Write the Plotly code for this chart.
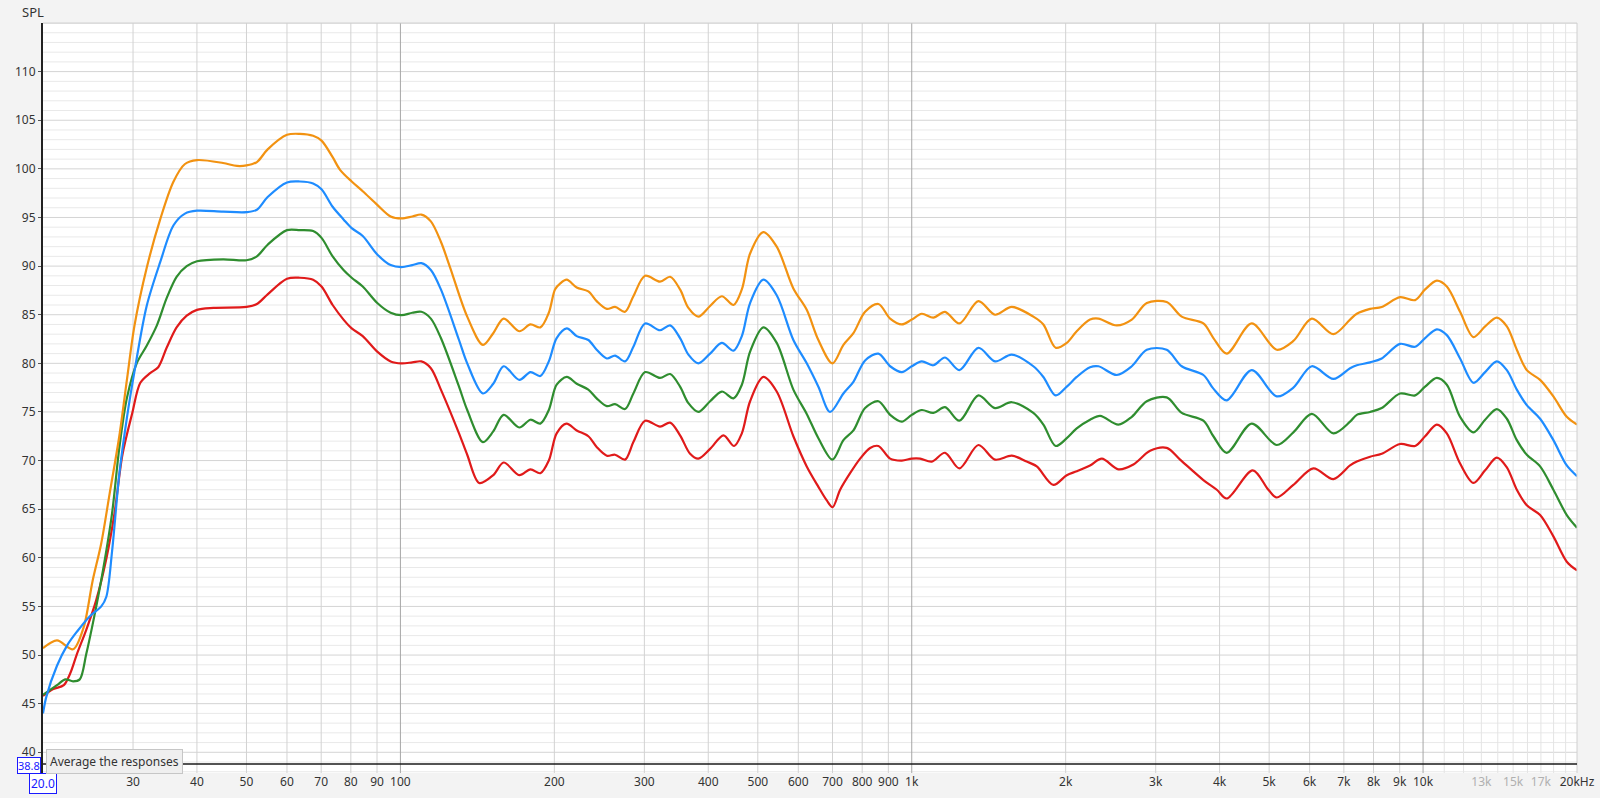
import math
import plotly.graph_objects as go

# ---------------- data (frequency in Hz, SPL in dB) ----------------
orange_f = [20.0, 21.3, 22.9, 24.0, 25.0, 26.0, 27.0, 28.2, 29.2, 30.2, 31.9, 33.9, 36.0, 37.9, 40.0,
            45.0, 47.9, 50.0, 52.4, 55.0, 60.0, 63.6, 67.5, 70.1, 73.7, 76.2, 80.3, 84.4, 90.1, 95.7,
            100.5, 105.5, 109.9, 114.7, 120, 125, 135.1, 145, 151.9, 159.2, 170.8, 179.6, 187.8, 195.1,
            200.6, 205.2, 211.5, 221.2, 233.1, 242, 253.3, 262.9, 275, 285.5, 301, 321.9, 336.9, 352.3,
            365.8, 382.5, 403.3, 425.2, 448.1, 465.3, 482.9, 512.6, 544.4, 586.8, 623.2, 656.8, 699.7,
            735.2, 769, 810.6, 860.6, 907.2, 956.2, 1000, 1046.2, 1102.3, 1161.8, 1239.2, 1350, 1455,
            1569, 1729, 1809, 1912, 2010, 2102, 2232, 2318, 2518, 2694, 2882, 3152, 3373, 3718, 3890,
            4130, 4622, 5174, 5576, 6058, 6678, 7198, 7420, 7878, 8302, 9016, 9648, 10092, 10638, 11128,
            11814, 12546, 13224, 13938, 14582, 15252, 15954, 16938, 17982, 19100, 20000]
orange_db = [50.7, 51.5, 50.6, 52.8, 57.6, 61.5, 66.6, 72.5, 78.4, 83.9, 89.8, 94.8, 98.7, 100.5, 100.9,
             100.6, 100.3, 100.35, 100.7, 102.0, 103.5, 103.6, 103.4, 102.9, 101.2, 99.9, 98.7, 97.7, 96.3, 95.1,
             94.9, 95.1, 95.3, 94.6, 92.5, 89.9, 84.8, 81.9, 83.1, 84.6, 83.3, 84.0, 83.7, 85.2,
             87.6, 88.2, 88.6, 87.8, 87.4, 86.4, 85.6, 85.8, 85.3, 86.9, 89.0, 88.4, 88.9, 87.6,
             85.7, 84.8, 85.9, 86.9, 86.0, 87.6, 91.3, 93.5, 92.0, 87.7, 85.5, 82.4, 80.0,
             81.9, 83.1, 85.3, 86.1, 84.6, 84.0, 84.5, 85.1, 84.7, 85.3, 84.1, 86.4, 85.0,
             85.8, 84.8, 84.0, 81.6, 82.1, 83.3, 84.5, 84.6, 83.9, 84.5, 86.2, 86.3, 84.8, 84.1, 82.6,
             81.0, 84.1, 81.4, 82.3, 84.6, 83.0, 84.5, 85.1, 85.6, 85.8, 86.8, 86.5, 87.6, 88.5, 87.9,
             85.3, 82.7, 83.8, 84.7, 83.8, 81.4, 79.3, 78.3, 76.6, 74.5, 73.7]

blue_f = [20.0, 20.3, 21.3, 22.3, 23.3, 24.7, 26.0, 26.6, 27.3, 28.2, 29.2, 30.2, 31.9, 33.9, 36.0, 37.9,
          40.0, 45.0, 50.0, 52.4, 55.0, 60.0, 63.6, 67.5, 70.1, 73.7, 77.4, 80.3, 84.4, 90.1, 95.7,
          100.5, 105.5, 109.9, 114.7, 120, 130.2, 135.1, 145, 151.9, 159.2, 170.8, 179.6, 187.8, 195.1,
          202.1, 211.5, 221.2, 233.1, 242, 253.3, 262.9, 275, 285.5, 301, 321.9, 336.9, 352.3, 365.8,
          382.5, 403.3, 425.2, 448.1, 465.3, 482.9, 512.6, 544.4, 586.8, 623.2, 656.8, 692.3, 735.2,
          769, 810.6, 860.6, 907.2, 956.2, 1000, 1046.2, 1102.3, 1161.8, 1239.2, 1350, 1455, 1569, 1729,
          1809, 1912, 2010, 2102, 2232, 2318, 2518, 2694, 2882, 3152, 3373, 3718, 3890, 4130, 4622, 5174,
          5576, 6058, 6678, 7198, 7420, 7878, 8302, 9016, 9648, 10092, 10638, 11128, 11814, 12546, 13224,
          13938, 14582, 15252, 15954, 16938, 17982, 19100, 20000]
blue_db = [44.0, 45.7, 48.9, 51.0, 52.4, 54.0, 55.0, 56.0, 60.7, 68.6, 74.5, 79.2, 85.9, 90.4, 94.2, 95.4,
           95.7, 95.6, 95.55, 95.8, 97.1, 98.6, 98.7, 98.5, 97.9, 96.1, 94.8, 93.9, 93.1, 91.2, 90.1,
           89.9, 90.1, 90.3, 89.6, 87.6, 82.4, 80.0, 76.9, 77.9, 79.7, 78.3, 79.1, 78.7, 80.2,
           82.6, 83.6, 82.8, 82.4, 81.4, 80.5, 80.8, 80.2, 81.7, 84.1, 83.4, 83.9, 82.6, 80.9,
           80.0, 81.0, 82.1, 81.3, 82.8, 86.2, 88.6, 87.0, 82.4, 80.0, 77.6, 75.0, 76.9,
           78.1, 80.3, 81.0, 79.7, 79.1, 79.7, 80.2, 79.8, 80.6, 79.3, 81.6, 80.2, 80.9, 79.7,
           78.6, 76.7, 77.6, 78.6, 79.6, 79.7, 78.8, 79.7, 81.4, 81.4, 79.7, 78.8, 77.4, 76.2, 79.3, 76.6,
           77.5, 79.7, 78.4, 79.5, 79.8, 80.1, 80.5, 82.0, 81.7, 82.6, 83.5, 82.9, 80.5, 78.0, 79.1,
           80.2, 79.3, 77.3, 75.7, 74.3, 72.1, 69.5, 68.4]

green_f = [20.0, 21.3, 22.1, 22.9, 23.6, 24.3, 25.2, 26.2, 27.3, 28.2, 29.2, 30.5, 31.9, 33.4, 34.9, 36.5,
           38.2, 40.0, 45.0, 50.0, 52.4, 55.0, 60.0, 63.6, 67.5, 70.1, 73.7, 77.4, 80.3, 84.4, 90.1, 95.7,
           100.5, 105.5, 109.9, 114.7, 120, 130.2, 135.1, 145, 151.9, 159.2, 170.8, 179.6, 187.8, 195.1,
           202.1, 211.5, 221.2, 233.1, 242, 253.3, 262.9, 275, 285.5, 301, 321.9, 336.9, 352.3, 365.8,
           382.5, 403.3, 425.2, 448.1, 465.3, 482.9, 512.6, 544.4, 586.8, 623.2, 656.8, 699.7, 735.2,
           769, 810.6, 860.6, 907.2, 956.2, 1000, 1046.2, 1102.3, 1161.8, 1239.2, 1350, 1455, 1569, 1729,
           1809, 1912, 2010, 2102, 2232, 2336, 2536, 2694, 2882, 3152, 3373, 3718, 3890, 4130, 4622, 5174,
           5576, 6058, 6678, 7198, 7420, 7878, 8302, 9016, 9648, 10092, 10638, 11128, 11814, 12546, 13224,
           13938, 14582, 15252, 15954, 16938, 17982, 19100, 20000]
green_db = [45.9, 46.9, 47.5, 47.3, 47.5, 50.1, 54.0, 58.7, 64.6, 71.3, 76.5, 80.0, 81.8, 83.9, 86.7, 88.9,
            90.0, 90.5, 90.7, 90.6, 91.0, 92.2, 93.7, 93.7, 93.6, 92.9, 91.0, 89.6, 88.8, 87.9, 86.2, 85.2,
            84.95, 85.2, 85.3, 84.6, 82.6, 77.6, 75.2, 71.9, 73.0, 74.7, 73.4, 74.2, 73.8, 75.2,
            77.8, 78.6, 77.9, 77.3, 76.4, 75.6, 75.8, 75.3, 76.9, 79.1, 78.5, 78.9, 77.6, 75.9,
            75.0, 76.1, 77.1, 76.4, 77.8, 81.2, 83.7, 82.1, 77.3, 74.8, 72.3, 70.1, 72.1,
            73.1, 75.4, 76.1, 74.7, 74.0, 74.7, 75.2, 74.9, 75.5, 74.1, 76.7, 75.4, 76.0, 74.9,
            73.7, 71.5, 72.3, 73.3, 74.2, 74.6, 73.7, 74.5, 76.1, 76.5, 74.9, 74.1, 72.5, 70.8, 73.8, 71.6,
            72.9, 74.8, 72.8, 74.0, 74.7, 75.0, 75.4, 76.9, 76.7, 77.6, 78.5, 77.8, 74.5, 72.9, 74.2,
            75.3, 74.3, 72.1, 70.6, 69.4, 67.0, 64.4, 63.1]

red_f = [20.0, 20.95, 21.96, 22.6, 23.3, 24.3, 25.4, 26.6, 27.6, 28.6, 29.9, 31.0, 32.4, 33.6, 34.9, 36.5,
         38.2, 40.0, 43.1, 50.0, 52.4, 55.0, 60.0, 63.6, 67.5, 70.1, 73.7, 77.4, 80.3, 84.4, 90.1, 95.7,
         100.5, 105.5, 109.9, 114.7, 120, 130.2, 135.1, 142.6, 151.9, 159.2, 170.8, 179.6, 187.8, 195.1,
         202.1, 211.2, 221.2, 233.1, 242, 253.3, 262.9, 275, 285.5, 301, 321.9, 336.9, 352.3, 368.6,
         382.5, 403.3, 428.4, 449.4, 465.3, 482.9, 512.6, 544.4, 586.8, 623.2, 656.8, 682.1, 700, 724.4,
         757.6, 792.6, 829.1, 860.6, 907.2, 956.2, 1000, 1038.5, 1094.4, 1161.8, 1239.2, 1350, 1455, 1569,
         1678, 1756, 1892, 2010, 2102, 2232, 2354, 2536, 2713, 2925, 3152, 3348, 3718, 3950, 4130, 4644,
         4982, 5174, 5576, 6102, 6678, 7198, 7420, 7878, 8302, 9016, 9648, 10092, 10638, 11128, 11814,
         12546, 13224, 13938, 14582, 15252, 15954, 16938, 17982, 19100, 20000]
red_db = [45.8, 46.5, 46.9, 48.1, 50.1, 52.6, 55.6, 59.9, 64.6, 70.6, 74.9, 78.0, 79.0, 79.6, 81.6, 83.7,
          84.9, 85.5, 85.7, 85.8, 86.1, 87.1, 88.7, 88.8, 88.6, 87.9, 86.0, 84.5, 83.6, 82.8, 81.2, 80.2,
          80.0, 80.1, 80.2, 79.5, 77.3, 72.8, 70.6, 67.7, 68.5, 69.8, 68.5, 69.1, 68.7, 70.0,
          72.8, 73.8, 73.1, 72.5, 71.4, 70.5, 70.6, 70.1, 71.9, 74.1, 73.5, 73.9, 72.6, 70.7,
          70.2, 71.2, 72.6, 71.5, 72.8, 76.1, 78.6, 77.1, 72.5, 69.4, 67.3, 65.9, 65.2, 67.0,
          68.7, 70.2, 71.3, 71.5, 70.2, 70.0, 70.2, 70.2, 69.9, 70.8, 69.2, 71.6, 70.1, 70.5,
          69.9, 69.4, 67.5, 68.5, 68.9, 69.5, 70.2, 69.1, 69.6, 71.0, 71.3, 70.1, 68.0, 67.0, 66.1, 69.0,
          67.0, 66.2, 67.5, 69.2, 68.1, 69.5, 69.9, 70.4, 70.7, 71.7, 71.5, 72.5, 73.7, 72.8, 69.7,
          67.7, 69.0, 70.3, 69.3, 67.0, 65.4, 64.4, 62.2, 59.6, 58.7]

# ---------------- axes / ticks ----------------
x_min, x_max = 20, 20000
y_min, y_max = 37.87, 115.0
cursor_level = 38.8

x_tick_vals = [30, 40, 50, 60, 70, 80, 90, 100, 200, 300, 400, 500, 600, 700, 800, 900, 1000,
               2000, 3000, 4000, 5000, 6000, 7000, 8000, 9000, 10000, 13000, 15000, 17000, 20000]
x_tick_text = ["30", "40", "50", "60", "70", "80", "90", "100", "200", "300", "400", "500", "600",
               "700", "800", "900", "1k", "2k", "3k", "4k", "5k", "6k", "7k", "8k", "9k", "10k",
               "13k", "15k", "17k", "20kHz"]
x_faded_labels = ["13k", "15k", "17k"]

y_tick_vals = [40, 45, 50, 55, 60, 65, 70, 75, 80, 85, 90, 95, 100, 105, 110]

grid_regular = [30, 40, 50, 60, 70, 80, 90, 200, 300, 400, 500, 600, 700, 800, 900,
                2000, 3000, 4000, 5000, 6000, 7000, 8000, 9000]
grid_decade = [100, 1000, 10000]
grid_high = [11000, 12000, 13000, 14000, 15000, 16000, 17000, 18000, 19000]

series = [
    ("red", red_f, red_db, "#e01a1a"),
    ("green", green_f, green_db, "#2f8d2f"),
    ("orange", orange_f, orange_db, "#f29211"),
    ("blue", blue_f, blue_db, "#1e8cff"),
]

FONT = "Noto Sans, Open Sans, DejaVu Sans, sans-serif"

fig = go.Figure()

shapes = []
# horizontal grid lines (1 dB minor, 5 dB major)
for v in range(38, 116):
    major = (v % 5 == 0)
    shapes.append(dict(type="line", xref="paper", yref="y", x0=0, x1=1, y0=v, y1=v,
                       line=dict(color="#d4d4d4" if major else "#e9e9e9", width=1), layer="below"))
# vertical grid lines
for v in grid_regular:
    shapes.append(dict(type="line", xref="x", yref="paper", x0=v, x1=v, y0=0, y1=1,
                       line=dict(color="#d2d2d2", width=1), layer="below"))
for v in grid_high:
    shapes.append(dict(type="line", xref="x", yref="paper", x0=v, x1=v, y0=0, y1=1,
                       line=dict(color="#e4e4e4", width=1), layer="below"))
for v in grid_decade:
    shapes.append(dict(type="line", xref="x", yref="paper", x0=v, x1=v, y0=0, y1=1,
                       line=dict(color="#a6a6a6", width=1), layer="below"))
# plot border (top / right)
shapes.append(dict(type="line", xref="paper", yref="paper", x0=0, x1=1, y0=1, y1=1,
                   line=dict(color="#d0d0d0", width=1)))
shapes.append(dict(type="line", xref="paper", yref="paper", x0=1, x1=1, y0=0, y1=1,
                   line=dict(color="#d0d0d0", width=1)))
# cursor line
shapes.append(dict(type="line", xref="paper", yref="y", x0=0, x1=1, y0=cursor_level, y1=cursor_level,
                   line=dict(color="#1a1a1a", width=1.5)))

for name, f, db, color in series:
    fig.add_trace(go.Scatter(x=f, y=db, mode="lines", name=name,
                             line=dict(color=color, width=2.2, shape="spline", smoothing=0.9),
                             hoverinfo="skip", showlegend=False))

tick_text_fmt = [f"<span style='color:#b0b0b0'>{t}</span>" if t in x_faded_labels else t
                 for t in x_tick_text]

fig.update_layout(
    width=1600, height=798,
    margin=dict(l=43, r=23, t=23, b=25),
    paper_bgcolor="#f3f3f3",
    plot_bgcolor="#ffffff",
    font=dict(family=FONT, size=12, color="#333333"),
    shapes=shapes,
    xaxis=dict(type="log", range=[math.log10(x_min), math.log10(x_max)], automargin=False,
               tickvals=x_tick_vals, ticktext=tick_text_fmt, ticks="", showgrid=False,
               zeroline=False, showline=False, tickfont=dict(size=12, color="#333333")),
    yaxis=dict(range=[y_min, y_max], tickvals=y_tick_vals, ticks="outside", ticklen=3, automargin=False,
               tickcolor="#555555", showgrid=False, zeroline=False, showline=True,
               linecolor="#222222", linewidth=2, tickfont=dict(size=12, color="#333333")),
    annotations=[
        dict(text="SPL", xref="paper", yref="paper", x=-0.0065, y=1.014, xanchor="center",
             yanchor="middle", showarrow=False, font=dict(size=13, color="#333333")),
        dict(text="20.0", xref="x", yref="paper", x=math.log10(x_min), y=-0.0135, xanchor="center",
             yanchor="middle", showarrow=False, font=dict(size=12, color="#1a1aff"),
             bordercolor="#1a1aff", borderwidth=1, borderpad=1, bgcolor="#ffffff"),
        dict(text=f"{cursor_level}", xref="paper", yref="y", x=-0.0093, y=cursor_level - 0.15,
             xanchor="center", yanchor="middle", showarrow=False,
             font=dict(size=11, color="#1a1aff"), bordercolor="#1a1aff", borderwidth=1,
             borderpad=0, bgcolor="#ffffff"),
        dict(text="Average the responses", xref="paper", yref="y", x=0.002, y=39.05,
             xanchor="left", yanchor="middle", showarrow=False,
             font=dict(size=12, color="#333333"), bordercolor="#c6c6c6", borderwidth=1,
             borderpad=3, bgcolor="#efefef"),
    ],
)

fig.write_html(
    "out.html",
    config={"displayModeBar": False},
    post_script="document.body.style.margin='0';document.body.style.background='#f3f3f3';",
)
